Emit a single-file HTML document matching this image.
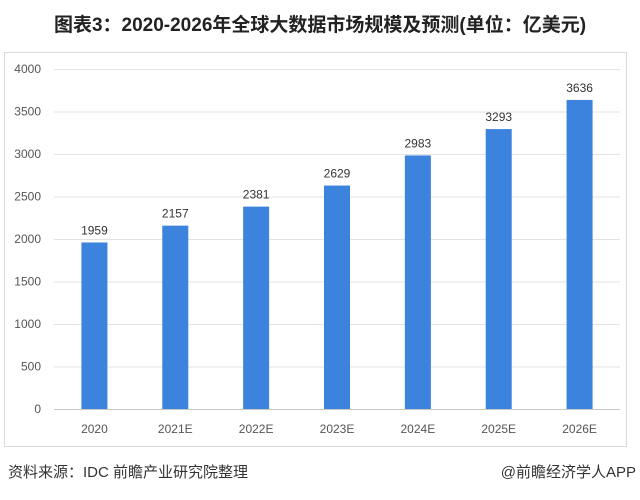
<!DOCTYPE html>
<html><head><meta charset="utf-8"><style>
body{margin:0;width:640px;height:495px;background:#fff;overflow:hidden;font-family:"Liberation Sans","Noto Sans CJK SC",sans-serif;}
</style></head><body>
<svg width="640" height="495">
<text x="320" y="31" text-anchor="middle" font-size="19" font-weight="bold" fill="#222">图表3：2020-2026年全球大数据市场规模及预测(单位：亿美元)</text>
<rect x="4.5" y="52.5" width="622" height="394" fill="none" stroke="#d9d9d9"/>
<g id="grid"></g><g id="bars"></g>
<text x="8" y="477" font-size="15" fill="#333">资料来源：IDC 前瞻产业研究院整理</text>
<text x="636" y="477" text-anchor="end" font-size="15" fill="#333">@前瞻经济学人APP</text>
</svg>
<script>
const categories=["2020","2021E","2022E","2023E","2024E","2025E","2026E"];
const values=[1959,2157,2381,2629,2983,3293,3636];
const ticks=[0,500,1000,1500,2000,2500,3000,3500,4000];
const ns="http://www.w3.org/2000/svg";
const y0=409,yMax=4000,plotH=340,x0=54,x1=620;
const y=v=>y0-v/yMax*plotH;
const step=(x1-x0)/categories.length;
const x=i=>x0+step*(i+0.5);
function mk(t,a,p){const e=document.createElementNS(ns,t);for(const k in a)e.setAttribute(k,a[k]);p.appendChild(e);return e;}
const g=document.getElementById('grid'),b=document.getElementById('bars');
ticks.forEach(t=>{
 const l=mk('line',{x1:x0,x2:x1,y1:y(t)+0.5,y2:y(t)+0.5,stroke:t===0?'#c8c8c8':'#e3e3e3'},g);
 
 
 const tx=mk('text',{x:41,y:y(t)+4,'text-anchor':'end','font-size':12,fill:'#555'},g);
 tx.textContent=t;
 
 
});
categories.forEach((c,i)=>{
 const r=mk('rect',{x:x(i)-13,y:y(values[i]),width:26,height:y0-y(values[i]),fill:'#3b83dd'},b);
 
 
 const v=mk('text',{x:x(i),y:y(values[i])-8,'text-anchor':'middle','font-size':12,fill:'#333'},b);
 v.textContent=values[i];
 
 
 const xl=mk('text',{x:x(i),y:433,'text-anchor':'middle','font-size':12,fill:'#555'},b);
 xl.textContent=c;
 
 
});
</script>
</body></html>
